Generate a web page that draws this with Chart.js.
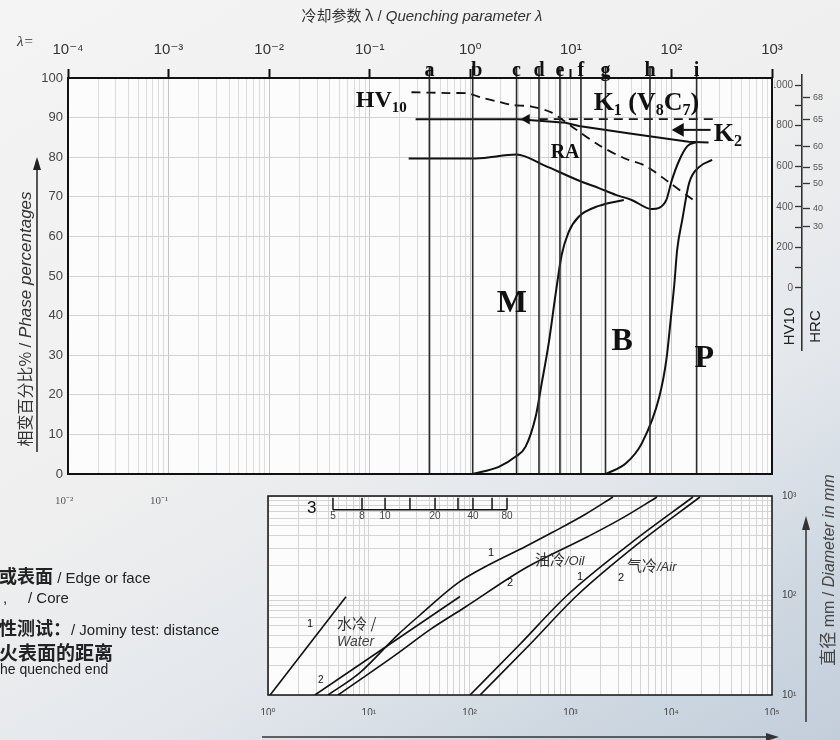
<!DOCTYPE html>
<html>
<head>
<meta charset="utf-8" />
<title>Quenching parameter chart</title>
<script src="https://cdn.jsdelivr.net/npm/chart.js"></script>
<style>
  body { margin: 0; background: #ececec; }
  #page {
    position: relative; width: 840px; height: 740px; overflow: hidden;
    background: linear-gradient(150deg, #f4f4f4 0%, #efefef 45%, #e3e7ec 68%, #cfd8e1 85%, #c3cedb 100%);
  }
  canvas { position: absolute; }
  .t { position: absolute; white-space: nowrap; color: #222; font-family: 'Liberation Sans', Arial, sans-serif; }
  .cn { font-family: 'Noto Sans CJK SC', sans-serif; }
  svg { position: absolute; left: 0; top: 0; }
</style>
</head>
<body>
<div id="page">
  <canvas id="main" width="840" height="740" style="left:0;top:0"></canvas>
  <canvas id="nomo" width="840" height="260" style="left:0;top:480px"></canvas>
  <canvas id="hard" width="70" height="300" style="left:770px;top:60px"></canvas>

  <div class="t" style="left:0;width:844px;top:4px;text-align:center;font-size:15px;color:#333">
    <span class="cn">冷却参数 λ</span> / <i>Quenching parameter λ</i></div>
  <div class="t" style="left:17px;top:33px;font:italic 15px 'Liberation Serif',serif;color:#333">λ=</div>
  <div class="t" style="left:-126px;top:307px;width:300px;text-align:center;transform:rotate(-90deg);color:#333">
    <span class="cn" style="font-size:16px">相变百分比%</span> <span style="font-size:17px">/ <i>Phase percentages</i></span></div>
  <div class="t" style="left:55px;top:492px;font:11px 'Liberation Serif',serif;color:#555">10⁻²</div>
  <div class="t" style="left:150px;top:492px;font:11px 'Liberation Serif',serif;color:#555">10⁻¹</div>

  <div class="t" style="left:-1px;top:562px;font-size:15px"><b class="cn" style="font-size:18px">或表面</b> / Edge or face</div>
  <div class="t" style="left:3px;top:589px;font-size:15px">,&nbsp;&nbsp;&nbsp;&nbsp;&nbsp;/ Core</div>
  <div class="t" style="left:-1px;top:614px;font-size:15px"><b class="cn" style="font-size:18px">性测试：</b>/ Jominy test: distance</div>
  <div class="t" style="left:-1px;top:638px"><b class="cn" style="font-size:19px">火表面的距离</b></div>
  <div class="t" style="left:0;top:661px;font-size:14px">he quenched end</div>

  <div class="t" style="left:695px;top:559px;width:260px;text-align:center;transform:rotate(-90deg);color:#444;transform-origin:130px 11px">
    <span class="cn" style="font-size:17px">直径</span> <span style="font-size:16px">mm / <i>Diameter in mm</i></span></div>
  <div class="t" style="left:766px;top:318px;width:44px;text-align:center;font-size:15px;transform:rotate(-90deg)">HV10</div>
  <div class="t" style="left:792px;top:318px;width:44px;text-align:center;font-size:15px;transform:rotate(-90deg)">HRC</div>

  <svg width="840" height="740">
    <line x1="37" y1="452" x2="37" y2="168" stroke="#222" stroke-width="1.5"/>
    <polygon points="33,170 41,170 37,157" fill="#222"/>
    <line x1="806" y1="722" x2="806" y2="528" stroke="#333" stroke-width="1.5"/>
    <polygon points="802,530 810,530 806,516" fill="#333"/>
    <line x1="262" y1="737" x2="768" y2="737" stroke="#333" stroke-width="1.5"/>
    <polygon points="766,733 766,741 779,737" fill="#333"/>
  </svg>
</div>

<script>
  // top axis: quenching parameter lambda
  const decades = [1e-4, 1e-3, 1e-2, 1e-1, 1, 10, 100, 1000];
  const decadeLabels = ['10⁻⁴', '10⁻³', '10⁻²', '10⁻¹', '10⁰', '10¹', '10²', '10³'];
  const minorSteps = [1, 2, 3, 4, 5, 6, 7, 8, 9];

  // cooling curves a..i
  const letterNames = ['a', 'b', 'c', 'd', 'e', 'f', 'g', 'h', 'i'];
  const letterLambda = [0.392, 1.057, 2.885, 4.82, 7.79, 12.6, 22.1, 61.2, 178];

  // hardness HV10 (dashed)
  const hvLambda = [0.26, 0.61, 0.96, 1.27, 1.92, 2.58, 4.08, 6.3, 8.1, 11.4, 18.9, 33.5, 55.4, 94, 175];
  const hvValue = [96.4, 96.2, 96.1, 95.1, 94.0, 93.2, 92.8, 91.4, 89.6, 86.9, 83.1, 79.8, 77.8, 73.7, 68.7];
  // K1 carbide level (dashed)
  const k1Lambda = [4.8, 275];
  const k1Value = [89.6, 89.6];
  // upper boundary (K2)
  const upperLambda = [0.286, 3.02, 8.88, 12, 40.2, 148, 234];
  const upperValue = [89.6, 89.6, 88.7, 87.9, 85.9, 83.9, 83.7];
  // lower boundary (RA)
  const lowerLambda = [0.244, 1.13, 2.89, 5.36, 12.8, 19, 27.9, 40.2, 64, 75.6, 89, 101, 120, 144, 178];
  const lowerValue = [79.7, 79.7, 80.7, 78.0, 73.8, 72.2, 70.5, 69.2, 66.9, 67.2, 69.2, 74.2, 79.3, 82.8, 83.8];
  // martensite / bainite boundary
  const mLambda = [1.04, 1.92, 2.83, 3.55, 4.47, 5.13, 6.02, 7.07, 8.1, 9.5, 11.9, 19, 33.6];
  const mValue = [0, 1.8, 4.4, 6.9, 14.5, 22.9, 33.0, 45.6, 55.3, 61.1, 64.9, 67.7, 69.2];
  // bainite / pearlite boundary
  const pLambda = [22.2, 35.3, 50.9, 75.8, 89, 99, 107, 114, 128, 150, 188, 254];
  const pValue = [0, 2.7, 7.8, 19.5, 28.8, 39.7, 48.1, 56.6, 64.1, 73.5, 77.5, 79.3];
  // K2 arrow
  const k2ArrowLambda = [121, 245];
  const k2ArrowValue = [86.9, 86.9];

  // hardness scale
  const hvTicks = [0, 100, 200, 300, 400, 500, 600, 700, 800, 900, 1000];
  const hvLabelled = [0, 200, 400, 600, 800, 1000];
  const hrcValues = [68, 65, 60, 55, 50, 40, 30];
  const hrcAsHv = [940, 832, 697, 595, 513, 392, 302];

  // nomogram: diameter vs. lambda-equivalent
  const nomoXDecades = [1, 10, 100, 1e3, 1e4, 1e5];
  const nomoXLabels = ['10⁰', '10¹', '10²', '10³', '10⁴', '10⁵'];
  const nomoYDecades = [10, 100, 1000];
  const nomoYLabels = ['10¹', '10²', '10³'];
  const water1X = [1.05, 5.94], water1Y = [10, 97];
  const water2X = [2.92, 80.4], water2Y = [10, 97.7];
  const oil1X = [3.94, 8.18, 19.5, 32.2, 76.7, 159, 355, 672, 1396, 2648];
  const oil1Y = [10, 16.8, 40.5, 63.7, 134, 206, 309, 434, 652, 977];
  const oil2X = [4.95, 19.5, 40.5, 90, 355, 1462, 3105, 7230];
  const oil2Y = [10, 26.4, 45.4, 76.2, 188, 387, 582, 977];
  const air1X = [101, 316, 925, 3900, 16450];
  const air2X = [127, 398, 1162, 4680, 19300];
  const airY = [10, 32.4, 100, 331, 977];
  // Jominy distance ruler (mm) and where it sits on the nomogram x scale
  const jominyMm = [5, 8, 10, 15, 20, 30, 40, 60, 80];
  const jominyAt = [4.41, 8.56, 14.5, 25.6, 45.4, 76.7, 108, 167, 235];
  const jominyShown = [5, 8, 10, 20, 40, 80];

  Chart.defaults.font.family = "'Liberation Sans', 'DejaVu Sans', sans-serif";
  const serif = "'Liberation Serif', 'DejaVu Serif', serif";
  const sans = "'Liberation Sans', sans-serif";
  const cjk = "'Noto Sans CJK SC', sans-serif";

  const pts = (xs, ys) => xs.map((x, i) => ({ x, y: ys[i] }));
  const near = (a, b) => Math.abs(Math.log10(a) - Math.log10(b)) < 1e-6;
  const logTicks = (decs, top) => decs.flatMap(d => minorSteps.map(m => d * m)).filter(v => v <= top * 1.0001);
  const decadeLabel = (v, decs, labels) => {
    const i = decs.findIndex(d => near(d, v));
    return i < 0 ? '' : labels[i];
  };

  // fill the plot area and draw its frame
  const framePlugin = {
    id: 'frame',
    beforeDraw(chart) {
      const a = chart.chartArea, c = chart.ctx;
      c.save(); c.fillStyle = '#fcfcfc'; c.fillRect(a.left, a.top, a.right - a.left, a.bottom - a.top); c.restore();
    },
    afterDraw(chart) {
      const a = chart.chartArea, c = chart.ctx;
      c.save(); c.strokeStyle = '#111'; c.lineWidth = chart.canvas.id === 'main' ? 2 : 1.5;
      c.strokeRect(a.left, a.top, a.right - a.left, a.bottom - a.top); c.restore();
    }
  };

  // text labels anchored in data space
  const notes = items => ({
    id: 'notes',
    afterDatasetsDraw(chart) {
      const c = chart.ctx;
      items.forEach(n => {
        let px = chart.scales.x.getPixelForValue(n.x);
        const py = chart.scales.y.getPixelForValue(n.y);
        c.save();
        c.fillStyle = n.color || '#111';
        c.textBaseline = 'alphabetic';
        let total = 0;
        n.parts.forEach(p => { c.font = p.font; total += c.measureText(p.t).width; });
        if (n.align === 'center') px -= total / 2;
        n.parts.forEach(p => {
          c.font = p.font;
          c.fillText(p.t, px, py + (p.dy || 0));
          px += c.measureText(p.t).width;
        });
        c.restore();
      });
    }
  });
  const sb = s => `bold ${s}px ${serif}`;
  const big = (t, s) => ({ t, font: sb(s) });
  const sub = (t, s) => ({ t, font: sb(Math.round(s * 0.62)), dy: Math.round(s * 0.2) });

  const mainNotes = [
    { x: 0.0726, y: 92.7, parts: [big('HV', 24), sub('10', 24)] },
    { x: 16.85, y: 91.9, parts: [big('K', 26), sub('1', 26), big(' (V', 26), sub('8', 26), big('C', 26), sub('7', 26), big(')', 26)] },
    { x: 263, y: 84.1, parts: [big('K', 26), sub('2', 26)] },
    { x: 6.3, y: 79.8, parts: [big('RA', 20)] },
    { x: 1.83, y: 40.9, parts: [big('M', 32)] },
    { x: 25.4, y: 31.3, parts: [big('B', 32)] },
    { x: 170, y: 27.0, parts: [big('P', 32)] }
  ].concat(letterNames.map((t, i) => ({
    x: letterLambda[i] * (t === 'b' ? 1.1 : 1), y: 100.4, align: 'center', parts: [big(t, 20)]
  })));

  const line = (data, extra) => Object.assign({
    data, borderColor: '#111', borderWidth: 2, pointRadius: 0, fill: false
  }, extra);

  new Chart(document.getElementById('main'), {
    type: 'line',
    data: {
      datasets: [
        line(letterLambda.flatMap(l => [{ x: l, y: 0 }, { x: l, y: 103 }, { x: l, y: null }]),
          { borderColor: '#2b2b2b', borderWidth: 1.6, clip: false }),
        line(pts(hvLambda, hvValue), { borderDash: [9, 6], borderWidth: 1.8, tension: 0.3 }),
        line(pts(k1Lambda, k1Value), { borderDash: [9, 6], borderWidth: 1.8, clip: false }),
        line(pts(upperLambda, upperValue), { borderWidth: 2 }),
        line(pts(lowerLambda, lowerValue), { cubicInterpolationMode: 'monotone' }),
        line(pts(mLambda, mValue), { cubicInterpolationMode: 'monotone' }),
        line(pts(pLambda, pValue), { cubicInterpolationMode: 'monotone', clip: false }),
        line(pts(k2ArrowLambda, k2ArrowValue), {
          clip: false, pointStyle: 'triangle', pointRotation: 270,
          pointRadius: [6, 0], pointBackgroundColor: '#111', pointBorderColor: '#111'
        }),
        line([{ x: 3.64, y: 89.6 }], {
          showLine: false, pointStyle: 'triangle', pointRotation: 270,
          pointRadius: 4, pointBackgroundColor: '#111', pointBorderColor: '#111'
        })
      ]
    },
    options: {
      responsive: false,
      animation: false,
      layout: { padding: { left: 30, top: 38, right: 68, bottom: 266 } },
      plugins: { legend: { display: false }, tooltip: { enabled: false } },
      scales: {
        x: {
          type: 'logarithmic', position: 'top', min: 1e-4, max: 1e3,
          afterBuildTicks: s => { s.ticks = logTicks(decades, 1e3).map(v => ({ value: v })); },
          afterFit: s => { s.height = 40; },
          ticks: {
            autoSkip: false, maxRotation: 0, padding: 10, color: '#333', font: { size: 15 },
            callback: v => decadeLabel(v, decades, decadeLabels)
          },
          grid: {
            color: c => c.tick && decades.some(d => near(d, c.tick.value)) ? '#c4c4c4' : '#dcdcdc',
            tickColor: c => c.tick && decades.some(d => near(d, c.tick.value)) ? '#111' : 'rgba(0,0,0,0)',
            tickLength: 9, tickWidth: 2
          },
          border: { display: false }
        },
        y: {
          min: 0, max: 100,
          afterFit: s => { s.width = 38; },
          ticks: { stepSize: 10, padding: 5, color: '#444', font: { size: 13 } },
          grid: { drawTicks: false, color: '#d2d2d2' },
          border: { display: false }
        }
      }
    },
    plugins: [framePlugin, notes(mainNotes)]
  });

  // hardness scale next to the plot
  new Chart(document.getElementById('hard'), {
    type: 'line',
    data: { datasets: [] },
    options: {
      responsive: false,
      animation: false,
      layout: { padding: { left: 4, right: 7, top: 15, bottom: 10 } },
      plugins: { legend: { display: false }, tooltip: { enabled: false } },
      scales: {
        x: { type: 'linear', display: false },
        hv: {
          type: 'linear', position: 'left', min: -306, max: 1050,
          afterBuildTicks: s => { s.ticks = hvTicks.map(v => ({ value: v })); },
          afterFit: s => { s.width = 28; },
          ticks: {
            autoSkip: false, padding: 2, color: '#555', font: { size: 10 },
            callback: v => hvLabelled.includes(v) ? String(v) : ''
          },
          grid: { drawOnChartArea: false, tickLength: 7, color: '#333', tickWidth: 1.3 },
          border: { color: '#333', width: 1.6 }
        },
        hrc: {
          type: 'linear', position: 'right', min: -306, max: 1050,
          afterBuildTicks: s => { s.ticks = hrcAsHv.map(v => ({ value: v })); },
          afterFit: s => { s.width = 30; },
          ticks: {
            autoSkip: false, padding: 3, color: '#555', font: { size: 9 },
            callback: (v, i) => String(hrcValues[i])
          },
          grid: { drawOnChartArea: false, tickLength: 7, color: '#333', tickWidth: 1.3 },
          border: { display: false }
        }
      }
    }
  });

  // nomogram below
  const nomoNotes = [
    { x: 2.44, y: 48.5, parts: [{ t: '1', font: `11px ${sans}` }] },
    { x: 4.84, y: 46.4, parts: [{ t: '水冷 /', font: `15px ${cjk}` }], color: '#333' },
    { x: 4.84, y: 30.9, parts: [{ t: 'Water', font: `italic 14px ${sans}` }], color: '#444' },
    { x: 3.13, y: 13.1, parts: [{ t: '2', font: `10px ${sans}` }] },
    { x: 152, y: 247, parts: [{ t: '1', font: `11px ${sans}` }] },
    { x: 235, y: 125, parts: [{ t: '2', font: `11px ${sans}` }] },
    { x: 445, y: 201, parts: [{ t: '油冷', font: `15px ${cjk}` }, { t: '/Oil', font: `italic 13px ${sans}` }], color: '#333' },
    { x: 1162, y: 144, parts: [{ t: '1', font: `11px ${sans}` }] },
    { x: 2965, y: 140, parts: [{ t: '2', font: `11px ${sans}` }] },
    { x: 3640, y: 176, parts: [{ t: '气冷', font: `15px ${cjk}` }, { t: '/Air', font: `italic 13px ${sans}` }], color: '#333' },
    { x: 2.44, y: 681, parts: [{ t: '3', font: `17px ${sans}` }] }
  ].concat(jominyShown.map(mm => ({
    x: jominyAt[jominyMm.indexOf(mm)], y: 582, align: 'center', color: '#444',
    parts: [{ t: String(mm), font: `10px ${sans}` }]
  })));

  new Chart(document.getElementById('nomo'), {
    type: 'line',
    data: {
      datasets: [
        line(pts(water1X, water1Y), { borderWidth: 1.6 }),
        line(pts(water2X, water2Y), { borderWidth: 1.6 }),
        line(pts(oil1X, oil1Y), { borderWidth: 1.6, cubicInterpolationMode: 'monotone' }),
        line(pts(oil2X, oil2Y), { borderWidth: 1.6, cubicInterpolationMode: 'monotone' }),
        line(pts(air1X, airY), { borderWidth: 1.6, cubicInterpolationMode: 'monotone' }),
        line(pts(air2X, airY), { borderWidth: 1.6, cubicInterpolationMode: 'monotone' }),
        line([{ x: jominyAt[0], y: 729 }, { x: jominyAt[jominyAt.length - 1], y: 729 }], { borderWidth: 1.5 }),
        line(jominyAt.map(x => ({ x, y: 836 })), {
          showLine: false, pointStyle: 'line', pointRotation: 90, pointRadius: 6,
          pointBorderWidth: 1.5, pointBorderColor: '#111'
        })
      ]
    },
    options: {
      responsive: false,
      animation: false,
      layout: { padding: { left: 268, top: 11, right: 38, bottom: 25 } },
      plugins: { legend: { display: false }, tooltip: { enabled: false } },
      scales: {
        x: {
          type: 'logarithmic', position: 'bottom', min: 1, max: 1e5,
          afterBuildTicks: s => { s.ticks = logTicks(nomoXDecades, 1e5).map(v => ({ value: v })); },
          afterFit: s => { s.height = 20; },
          ticks: {
            autoSkip: false, maxRotation: 0, padding: 12, color: '#444', font: { size: 10 },
            callback: v => decadeLabel(v, nomoXDecades, nomoXLabels)
          },
          grid: { drawTicks: false, color: '#d4d4d4' },
          border: { display: false }
        },
        y: {
          type: 'logarithmic', position: 'right', min: 10, max: 1000,
          afterBuildTicks: s => { s.ticks = logTicks(nomoYDecades, 1000).map(v => ({ value: v })); },
          afterFit: s => { s.width = 30; },
          ticks: {
            autoSkip: false, padding: 10, color: '#444', font: { size: 10 },
            callback: v => decadeLabel(v, nomoYDecades, nomoYLabels)
          },
          grid: { drawTicks: false, color: '#d4d4d4' },
          border: { display: false }
        }
      }
    },
    plugins: [framePlugin, notes(nomoNotes)]
  });
</script>
</body>
</html>
